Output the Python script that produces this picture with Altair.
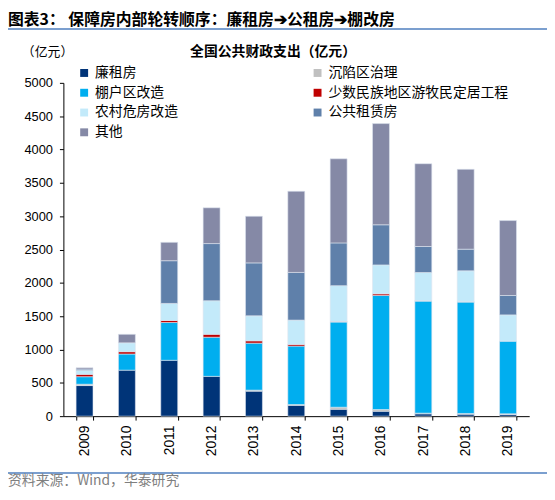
import altair as alt
import pandas as pd

FONT = "Noto Sans CJK SC"
NUMFONT = "Liberation Sans"

years = ["2009", "2010", "2011", "2012", "2013", "2014", "2015", "2016", "2017", "2018", "2019"]
series_names = ["廉租房", "沉陷区治理", "棚户区改造", "少数民族地区游牧民定居工程",
                "农村危房改造", "公共租赁房", "其他"]
series_colors = ["#003478", "#C0C0C0", "#00AEEF", "#C00000", "#C3EAFA", "#5F80AA", "#8589A6"]
# legend reads column by column: left column first, then right column
legend_order = ["廉租房", "棚户区改造", "农村危房改造", "其他",
                "沉陷区治理", "少数民族地区游牧民定居工程", "公共租赁房"]

lianzu = [459, 690, 838, 597, 375, 163, 104, 74, 35, 30, 25]
chenxian = [20, 0, 0, 0, 15, 10, 30, 25, 10, 10, 10]
penghu = [113, 242, 567, 587, 705, 878, 1277, 1711, 1681, 1672, 1090]
minzu = [35, 35, 30, 44, 35, 25, 10, 25, 5, 5, 0]
nongcun = [59, 133, 256, 503, 375, 365, 537, 434, 424, 463, 394]
gongzu = [20, 0, 641, 858, 794, 715, 641, 602, 390, 325, 291]
qita = [20, 128, 276, 537, 700, 1218, 1262, 1518, 1242, 1198, 1124]

y_ticks = [0, 500, 1000, 1500, 2000, 2500, 3000, 3500, 4000, 4500, 5000]

title_text = "图表3：  保障房内部轮转顺序：廉租房➔公租房➔棚改房"
chart_title = "全国公共财政支出（亿元）"
unit_text = "（亿元）"
source_text = "资料来源：Wind，华泰研究"

rows = []
for k, (name, vals) in enumerate(zip(series_names,
                                      [lianzu, chenxian, penghu, minzu, nongcun, gongzu, qita])):
    for yr, v in zip(years, vals):
        if v > 0:
            rows.append({"year": yr, "series": name, "value": v, "idx": k})
df = pd.DataFrame(rows)

color_of = dict(zip(series_names, series_colors))
legend_colors = [color_of[n] for n in legend_order]

bars = alt.Chart(df).mark_bar(stroke="#dfe6f0", strokeWidth=0.6).encode(
    x=alt.X("year:N", sort=years, title=None,
            scale=alt.Scale(paddingInner=0.6, paddingOuter=0.3),
            axis=alt.Axis(labelAngle=270, tickBand="extent", tickSize=4, labelPadding=5,
                          labelFont=NUMFONT, labelFontSize=14, labelColor="#000",
                          domainColor="#000", tickColor="#000", domainWidth=1)),
    y=alt.Y("value:Q", stack="zero", title=None,
            scale=alt.Scale(domain=[0, 5000], nice=False),
            axis=alt.Axis(values=y_ticks, format="d", grid=False, tickSize=4, labelPadding=7,
                          labelFont=NUMFONT, labelFontSize=13, labelColor="#000",
                          domainColor="#000", tickColor="#000", domainWidth=1)),
    color=alt.Color("series:N",
                    scale=alt.Scale(domain=legend_order, range=legend_colors),
                    legend=alt.Legend(orient="none", legendX=14, legendY=-17, columns=2,
                                      columnPadding=134, rowPadding=6, symbolType="square",
                                      symbolSize=64, symbolStrokeWidth=0, labelFont=FONT,
                                      labelFontSize=14, labelOffset=4, title=None, padding=0,
                                      labelLimit=300, labelColor="#000")),
    order=alt.Order("idx:Q", sort="ascending"),
)


def txt(s, x, y, size, weight="normal", align="left", color="#000", baseline="middle"):
    return alt.Chart(pd.DataFrame({"t": [s]})).mark_text(
        align=align, baseline=baseline, fontSize=size, fontWeight=weight,
        font=FONT, color=color).encode(x=alt.value(x), y=alt.value(y), text="t:N")


def hline(x1, x2, y, color, w):
    return alt.Chart(pd.DataFrame({"a": [0]})).mark_rule(color=color, strokeWidth=w).encode(
        x=alt.value(x1), x2=alt.value(x2), y=alt.value(y))


layers = [
    bars,
    txt(title_text, -56, -63, 16, weight="bold"),
    hline(-56, 489, -54.5, "#4F7FBF", 1.5),
    txt(unit_text, -16, -31, 13, align="center"),
    txt(chart_title, 212, -31, 14, weight="bold", align="center"),
    hline(-56, 489, 394.5, "#4F7FBF", 1.5),
    txt(source_text, -56, 410, 14, color="#7f7f7f", baseline="bottom"),
]

chart = alt.layer(*layers).properties(
    width=471, height=337,
    padding={"left": 56, "top": 73, "right": 18, "bottom": 74},
    autosize=alt.AutoSizeParams(type="none"),
    background="white",
).configure_view(stroke=None)

chart.save("out.html", embed_options={"renderer": "svg", "actions": False})
